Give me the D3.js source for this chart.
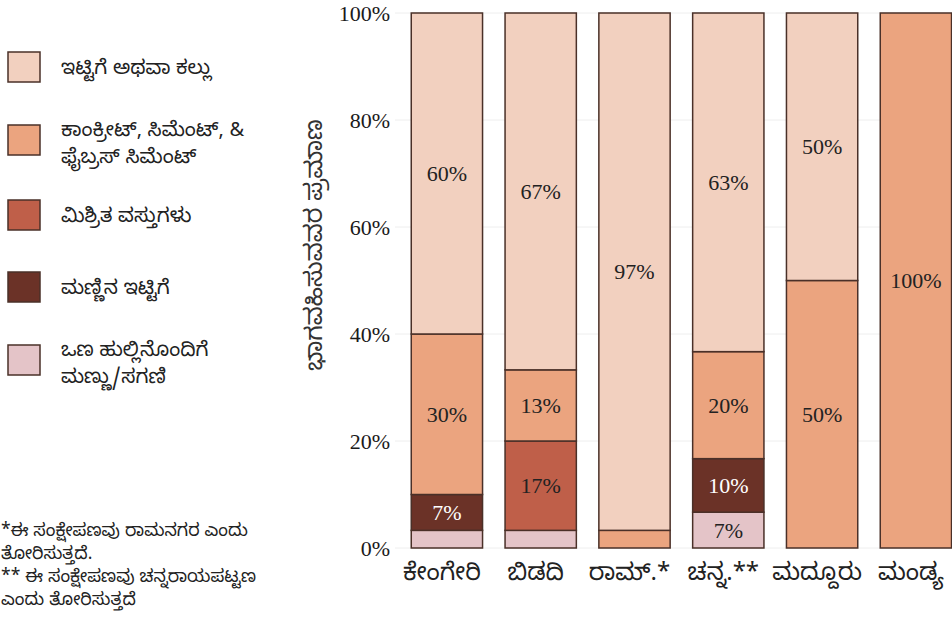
<!DOCTYPE html>
<html><head><meta charset="utf-8">
<script src="https://cdn.jsdelivr.net/npm/d3@7"></script>
<style>
html,body{margin:0;padding:0;background:#fff;overflow:hidden;}
svg{display:block;}
.kn{font-family:"Noto Sans Kannada","Noto Serif Kannada","Lohit Kannada","Tunga","Noto Sans",sans-serif;}
.num{font-family:"Liberation Serif","Times New Roman",serif;}
</style></head>
<body>
<script>
// ---- data ----
const categories = ["ಕೇಂಗೇರಿ", "ಬಿಡದಿ", "ರಾಮ್.*", "ಚನ್ನ.**", "ಮದ್ದೂರು", "ಮಂಡ್ಯ"];
const seriesNames = ["earth", "mudBrick", "mixed", "concrete", "brick"]; // bottom to top
const earthDung   = [3.3, 3.3, 0,    6.7, 0,  0];
const mudBrick    = [6.7, 0,   0,   10.0, 0,  0];
const mixed       = [0,   16.7, 0,   0,   0,  0];
const concrete    = [30,  13.3, 3.3, 20,  50, 100];
const brickStone  = [60,  66.7, 96.7, 63.3, 50, 0];
const yTicks = [0, 20, 40, 60, 80, 100];
const legendLabels = [
  ["ಇಟ್ಟಿಗೆ ಅಥವಾ ಕಲ್ಲು"],
  ["ಕಾಂಕ್ರೀಟ್, ಸಿಮೆಂಟ್, &", "ಫೈಬ್ರಸ್ ಸಿಮೆಂಟ್"],
  ["ಮಿಶ್ರಿತ ವಸ್ತುಗಳು"],
  ["ಮಣ್ಣಿನ ಇಟ್ಟಿಗೆ"],
  ["ಒಣ ಹುಲ್ಲಿನೊಂದಿಗೆ", "ಮಣ್ಣು/ಸಗಣಿ"]
];
const legendKeys = ["brick", "concrete", "mixed", "mudBrick", "earth"];
const yTitle = "ಭಾಗವಹಿಸುವವರ ಪ್ರಮಾಣ";
const footnotes = [
  "*ಈ ಸಂಕ್ಷೇಪಣವು ರಾಮನಗರ ಎಂದು",
  "ತೋರಿಸುತ್ತದೆ.",
  "** ಈ ಸಂಕ್ಷೇಪಣವು ಚನ್ನರಾಯಪಟ್ಟಣ",
  "ಎಂದು ತೋರಿಸುತ್ತದೆ"
];

const colors = {
  brick: "#F2D0BF",
  concrete: "#EBA47F",
  mixed: "#BF5F49",
  mudBrick: "#6B3227",
  earth: "#E4C4C8"
};
const labelColor = {brick:"#222", concrete:"#222", mixed:"#222", mudBrick:"#fff", earth:"#222"};

const rows = categories.map((c, i) => ({
  cat: c, earth: earthDung[i], mudBrick: mudBrick[i], mixed: mixed[i],
  concrete: concrete[i], brick: brickStone[i]
}));

const W = 952, H = 622;
const svg = d3.select("body").append("svg").attr("width", W).attr("height", H);

const x = d3.scaleBand().domain(categories).range([400, 962.8]).paddingInner(0.24).paddingOuter(0.12);
const y = d3.scaleLinear().domain([0, 100]).range([548, 13]);

// gridlines
svg.append("g").selectAll("line").data(yTicks).join("line")
  .attr("x1", 395).attr("x2", W)
  .attr("y1", d => y(d)).attr("y2", d => y(d))
  .attr("stroke", "#eeeeee").attr("stroke-width", 1);

// y axis
const yAxis = d3.axisLeft(y).tickValues(yTicks).tickFormat(d => d + "%").tickSize(0).tickPadding(0);
const yg = svg.append("g").attr("transform", "translate(390,0)").call(yAxis);
yg.select(".domain").remove();
yg.selectAll("text").attr("class", "num").attr("font-size", 22).attr("fill", "#1a1a1a");

// stack
const stack = d3.stack().keys(seriesNames);
const layers = stack(rows);

const lg = svg.append("g").selectAll("g").data(layers).join("g")
  .attr("fill", d => colors[d.key]);
lg.selectAll("rect").data(d => d.map(v => ({key: d.key, v}))).join("rect")
  .filter(d => d.v[1] - d.v[0] > 0)
  .attr("x", d => x(d.v.data.cat))
  .attr("width", x.bandwidth())
  .attr("y", d => y(d.v[1]))
  .attr("height", d => y(d.v[0]) - y(d.v[1]))
  .attr("stroke", "#4a3028").attr("stroke-width", 1.5);

// value labels
const labels = [];
layers.forEach(L => L.forEach(v => {
  const val = v[1] - v[0];
  if (val >= 5) labels.push({key: L.key, v, val});
}));
svg.append("g").selectAll("text").data(labels).join("text")
  .attr("class", "num")
  .attr("x", d => x(d.v.data.cat) + x.bandwidth() / 2)
  .attr("y", d => y((d.v[0] + d.v[1]) / 2))
  .attr("dy", "0.35em")
  .attr("text-anchor", "middle")
  .attr("font-size", 22)
  .attr("fill", d => labelColor[d.key])
  .text(d => Math.round(d.val) + "%");

// x axis
const xAxis = d3.axisBottom(x).tickSize(0).tickPadding(0);
const xg = svg.append("g").attr("transform", "translate(0,562)").call(xAxis);
xg.select(".domain").remove();
xg.selectAll("text").attr("class", "kn").attr("font-size", 24).attr("fill", "#222")
  .attr("dy", "0.75em").attr("dx", -5);

// y title
svg.append("text").attr("class", "kn")
  .attr("transform", "translate(314,245) rotate(-90)")
  .attr("text-anchor", "middle").attr("dy", "0.35em")
  .attr("font-size", 24).attr("fill", "#333")
  .text(yTitle);

// legend
const leg = svg.append("g");
const legY = [52, 125, 200, 272, 345];
legendKeys.forEach((k, i) => {
  const g = leg.append("g").attr("transform", `translate(8,${legY[i]})`);
  g.append("rect").attr("width", 32).attr("height", 30)
    .attr("fill", colors[k]).attr("stroke", "#4a3028").attr("stroke-width", 1.5);
  const lines = legendLabels[i];
  const t = g.append("text").attr("class", "kn").attr("font-size", 20).attr("fill", "#222");
  lines.forEach((ln, j) => {
    t.append("tspan").attr("x", 53)
      .attr("y", (lines.length === 1 ? 15 : 4 + j * 27))
      .attr("dy", "0.35em").text(ln);
  });
});

// footnotes
svg.append("g").selectAll("text").data(footnotes).join("text")
  .attr("class", "kn").attr("x", 1)
  .attr("y", (d, i) => 530 + i * 23).attr("dy", "0.35em")
  .attr("font-size", 17.5).attr("fill", "#222")
  .text(d => d);
</script>
</body></html>
